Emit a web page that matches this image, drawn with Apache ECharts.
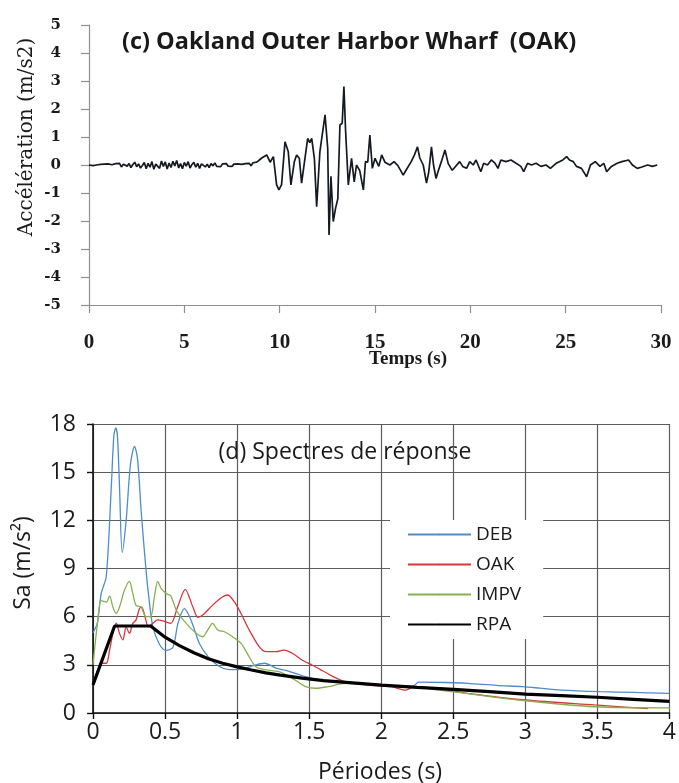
<!DOCTYPE html>
<html>
<head>
<meta charset="utf-8">
<script src="https://cdn.jsdelivr.net/npm/echarts@6/dist/echarts.min.js"></script>
<style>
  html, body { margin: 0; padding: 0; background: #fff; }
  #chart { width: 679px; height: 783px; }
</style>
</head>
<body>
<div id="chart"></div>
<script>
// (c) Accélérogramme – Oakland Outer Harbor Wharf (OAK)
const accTime = [
  0.0, 0.1, 0.2, 0.3, 0.4, 0.5, 0.6, 0.7, 0.8, 0.9, 1.0, 1.1, 1.2, 1.3, 1.4,
  1.5, 1.6, 1.7, 1.8, 1.9, 2.0, 2.1, 2.2, 2.3, 2.4, 2.5, 2.6, 2.7, 2.8, 2.9,
  3.0, 3.1, 3.2, 3.3, 3.4, 3.5, 3.6, 3.7, 3.8, 3.9, 4.0, 4.1, 4.2, 4.3, 4.4,
  4.5, 4.6, 4.7, 4.8, 4.9, 5.0, 5.1, 5.2, 5.3, 5.4, 5.5, 5.6, 5.7, 5.8, 5.9,
  6.0, 6.1, 6.2, 6.3, 6.4, 6.5, 6.6, 6.7, 6.8, 6.9, 7.0, 7.1, 7.2, 7.3, 7.4,
  7.5, 7.6, 7.7, 7.8, 7.9, 8.0, 8.1, 8.2, 8.3, 8.4, 8.5, 8.6, 8.7, 8.8, 8.9,
  9.06, 9.32, 9.5, 9.67, 9.84, 9.96, 10.1, 10.28, 10.45, 10.59, 10.77, 10.89, 11.03, 11.15, 11.3,
  11.47, 11.58, 11.68, 11.82, 11.94, 12.11, 12.38, 12.52, 12.59, 12.69, 12.81, 12.93, 13.05, 13.16,
  13.28, 13.37, 13.46, 13.6, 13.77, 13.91, 14.03, 14.2, 14.39, 14.5, 14.62, 14.73, 14.86, 15.0,
  15.2, 15.35, 15.52, 15.78, 16.0, 16.2, 16.48, 16.65, 16.9, 17.07, 17.23, 17.35, 17.53, 17.7,
  17.82, 17.96, 18.07, 18.2, 18.3, 18.48, 18.67, 18.84, 19.05, 19.2, 19.44, 19.6, 19.8, 19.97,
  20.15, 20.3, 20.55, 20.7, 20.9, 21.1, 21.3, 21.45, 21.6, 21.87, 22.13, 22.4, 22.65, 22.8, 23.0,
  23.2, 23.45, 23.7, 23.97, 24.2, 24.5, 24.67, 24.85, 25.05, 25.2, 25.4, 25.57, 25.83, 26.1, 26.3,
  26.55, 26.8, 27.0, 27.15, 27.4, 27.7, 27.95, 28.3, 28.5, 28.75, 29.0, 29.3, 29.55, 29.8
];
const accValues = [
  0.00, 0.01, -0.02, 0.02, 0.0, -0.03, 0.02, -0.01, 0.03, -0.02, 0.04, -0.03, 0.01, -0.04, 0.05,
  -0.02, 0.06, -0.07, 0.03, 0.08, -0.04, 0.05, -0.09, 0.02, 0.1, -0.06, 0.04, -0.11, -0.02, 0.09,
  -0.13, 0.06, -0.08, 0.12, -0.15, 0.03, 0.1, -0.12, 0.14, -0.05, 0.11, -0.14, 0.07, -0.09, 0.13,
  -0.03, 0.16, -0.1, 0.05, -0.13, 0.09, -0.04, 0.12, -0.11, 0.02, 0.1, -0.08, 0.06, -0.12, 0.04,
  0.08, -0.07, 0.03, -0.09, 0.05, -0.03, 0.07, -0.05, 0.02, -0.06, 0.04, -0.02, 0.05, -0.04, 0.01,
  -0.05, 0.03, -0.02, 0.04, -0.03, 0.02, -0.04, 0.05, -0.01, 0.06, -0.03, 0.08, 0.02, 0.1, 0.04,
  0.25, 0.36, 0.1, 0.3, -0.71, -0.89, -0.7, 0.83, 0.48, -0.71, 0.12, 0.36, 0.24, -0.65, 0.1,
  0.95, 0.8, 0.95, 0.24, -1.49, 0.48, 1.79, 0.6, -2.5, -0.4, -2.02, -1.55, -1.2, 1.43,
  1.49, 2.8, 1.19, -0.71, 0.24, -0.6, 0.0, -0.2, -0.89, 0.12, 0.1, 1.07, -0.12, 0.24,
  -0.05, 0.36, 0.1, 0.0, 0.12, -0.02, -0.36, -0.16, 0.12, 0.36, 0.65, 0.25, 0.0, -0.65,
  -0.25, 0.65, 0.0, -0.48, -0.25, 0.12, 0.54, 0.05, -0.19, -0.07, 0.12, -0.05, -0.12, 0.12,
  0.0, 0.18, -0.24, 0.06, 0.0, 0.18, 0.06, -0.12, 0.18, 0.12, 0.18, 0.06, -0.05, -0.24, 0.06,
  0.0, 0.06, -0.05, 0.0, -0.12, 0.06, 0.12, 0.18, 0.3, 0.18, 0.12, -0.05, -0.12, -0.42, 0.0,
  0.12, -0.05, 0.06, -0.24, -0.05, 0.06, 0.12, 0.18, 0.0, -0.12, -0.07, 0.0, -0.05, 0.0
];
const accTicks = { min: -5, max: 5, step: 1 };
const timeTicks = { min: 0, max: 30, step: 5 };

// (d) Spectres de réponse
const debPeriods = [0, 0.03, 0.057, 0.092, 0.127, 0.145, 0.158, 0.17, 0.184, 0.203, 0.23, 0.26, 0.288, 0.31, 0.334, 0.368,
  0.39, 0.415, 0.46, 0.506, 0.555, 0.59, 0.635, 0.67, 0.704, 0.74, 0.8, 0.877, 0.946, 0.99, 1.06, 1.13, 1.19, 1.27,
  1.36, 1.476, 1.57, 1.68, 1.8, 1.95, 2.1, 2.22, 2.26, 2.45, 2.6, 2.8, 2.98, 3.1, 3.25, 3.52, 3.75, 4.0];
const debSa = [5.0, 5.6, 7.45, 8.5, 14.1, 17.3, 17.75, 17.2, 14.1, 10.0, 12.0, 15.5, 16.6, 15.75, 12.6, 8.9,
  7.0, 5.4, 4.3, 3.9, 4.1, 5.6, 6.5, 6.0, 5.2, 4.3, 3.5, 2.9, 2.7, 2.7, 2.8, 3.0, 3.1, 2.8,
  2.6, 2.26, 2.07, 1.95, 1.85, 1.75, 1.7, 1.68, 1.92, 1.9, 1.85, 1.72, 1.64, 1.55, 1.43, 1.33, 1.28, 1.22];

const oakPeriods = [0, 0.03, 0.057, 0.092, 0.115, 0.138, 0.161, 0.184, 0.207, 0.23, 0.253, 0.276, 0.299, 0.322, 0.338,
  0.361, 0.384, 0.414, 0.449, 0.495, 0.54, 0.587, 0.64, 0.693, 0.728, 0.762, 0.83, 0.9, 0.935, 0.98, 1.027, 1.084,
  1.153, 1.2, 1.27, 1.326, 1.383, 1.45, 1.52, 1.59, 1.66, 1.75, 1.91, 2.07, 2.17, 2.23, 2.4, 2.6, 3.0, 3.48, 3.85];
const oakSa = [1.8, 2.6, 3.1, 3.1, 3.9, 4.96, 5.6, 4.96, 4.55, 5.37, 4.96, 5.58, 5.8, 6.5, 6.6,
  6.0, 5.37, 5.58, 5.8, 5.7, 5.58, 6.6, 7.7, 6.6, 5.96, 6.1, 6.72, 7.24, 7.35, 6.93, 6.2, 5.17,
  4.13, 3.82, 3.82, 3.92, 3.72, 3.3, 2.99, 2.65, 2.3, 1.95, 1.74, 1.64, 1.43, 1.64, 1.5, 1.22, 0.81, 0.5, 0.27];

const impvPeriods = [0, 0.03, 0.057, 0.092, 0.115, 0.138, 0.161, 0.184, 0.219, 0.253, 0.276, 0.299, 0.334, 0.368, 0.4,
  0.426, 0.449, 0.472, 0.506, 0.54, 0.578, 0.647, 0.716, 0.762, 0.796, 0.83, 0.865, 0.912, 0.969, 1.027, 1.084,
  1.13, 1.2, 1.29, 1.383, 1.476, 1.545, 1.63, 1.75, 2.02, 2.25, 2.49, 2.95, 3.48, 4.0];
const impvSa = [3.0, 5.5, 7.0, 6.9, 7.3, 6.6, 6.2, 6.6, 7.66, 8.2, 7.45, 6.7, 6.6, 6.0, 6.0,
  7.24, 8.2, 7.76, 7.45, 7.3, 6.4, 5.58, 4.96, 4.75, 5.17, 5.58, 5.17, 5.06, 4.75, 4.34, 3.5,
  2.88, 2.68, 2.57, 2.16, 1.64, 1.54, 1.64, 1.85, 1.74, 1.6, 1.33, 0.81, 0.39, 0.32];

const rpaPeriods = [0, 0.15, 0.4, 0.5, 0.6, 0.7, 0.8, 0.9, 1.0, 1.1, 1.2, 1.3, 1.45, 1.6, 1.8, 2.0, 2.25, 2.5,
  2.75, 3.0, 3.25, 3.5, 3.75, 4.0];
const rpaSa = [1.75, 5.42, 5.42, 4.72, 4.2, 3.75, 3.38, 3.1, 2.87, 2.68, 2.5, 2.36, 2.17, 2.02, 1.88, 1.74, 1.6, 1.47,
  1.33, 1.18, 1.08, 0.98, 0.85, 0.72];

const periodTicks = { min: 0, max: 4, step: 0.5 };
const saTicks = { min: 0, max: 18, step: 3 };

const pairs = (xs, ys) => xs.map((x, i) => [x, ys[i]]);

const serif = 'Liberation Serif';
const sans = 'Open Sans';

const chart = echarts.init(document.getElementById('chart'), null, { renderer: 'canvas' });

chart.setOption({
  animation: false,
  backgroundColor: '#ffffff',
  grid: [
    { left: 89, top: 25, width: 572, height: 280 },
    { left: 93, top: 424, width: 579, height: 289 }
  ],
  xAxis: [
    {
      gridIndex: 0, type: 'value',
      min: timeTicks.min, max: timeTicks.max, interval: timeTicks.step,
      axisLine: { onZero: false, lineStyle: { color: '#8f8f8f', width: 1.2 } },
      axisTick: { show: true, length: 8, lineStyle: { color: '#8f8f8f', width: 1.2 } },
      splitLine: { show: false },
      axisLabel: { margin: 27, color: '#1a1a1a', fontFamily: serif, fontWeight: 'bold', fontSize: 21 }
    },
    {
      gridIndex: 1, type: 'value',
      min: periodTicks.min, max: periodTicks.max, interval: periodTicks.step,
      axisLine: { onZero: false, lineStyle: { color: '#111', width: 1.6 } },
      axisTick: { show: true, length: 6, lineStyle: { color: '#111', width: 1.4 } },
      splitLine: { show: true, lineStyle: { color: '#5c5c5c', width: 1.2 } },
      axisLabel: { margin: 8, color: '#1a1a1a', fontFamily: sans, fontSize: 23 }
    }
  ],
  yAxis: [
    {
      gridIndex: 0, type: 'value',
      min: accTicks.min, max: accTicks.max, interval: accTicks.step,
      axisLine: { show: true, onZero: false, lineStyle: { color: '#8f8f8f', width: 1.2 } },
      axisTick: { show: true, length: 8, lineStyle: { color: '#8f8f8f', width: 1.2 } },
      splitLine: { show: false },
      axisLabel: { margin: 28, color: '#1a1a1a', fontFamily: 'DejaVu Serif', fontWeight: 'bold', fontSize: 15 }
    },
    {
      gridIndex: 1, type: 'value',
      min: saTicks.min, max: saTicks.max, interval: saTicks.step,
      axisLine: { show: true, onZero: false, lineStyle: { color: '#111', width: 1.6 } },
      axisTick: { show: true, length: 6, lineStyle: { color: '#111', width: 1.4 } },
      splitLine: { show: true, lineStyle: { color: '#5c5c5c', width: 1.2 } },
      axisLabel: { margin: 17, color: '#1a1a1a', fontFamily: sans, fontSize: 23 }
    }
  ],
  legend: {
    data: ['DEB', 'OAK', 'IMPV', 'RPA'],
    orient: 'vertical',
    left: 390, top: 520,
    padding: [5, 22, 5, 17],
    itemWidth: 63, itemHeight: 2, itemGap: 11,
    backgroundColor: '#ffffff',
    textStyle: { fontFamily: sans, fontSize: 19, color: '#1a1a1a' }
  },
  graphic: [
    {
      type: 'text', x: 122, y: 42,
      style: {
        text: '(c) Oakland Outer Harbor Wharf  (OAK)',
        fontFamily: sans, fontWeight: 'bold', fontSize: 23.5, fill: '#1a1a1a',
        textAlign: 'left', textVerticalAlign: 'middle'
      }
    },
    {
      type: 'text', x: 27, y: 137, rotation: Math.PI / 2,
      style: {
        text: 'Accélération (m/s2)',
        fontFamily: 'DejaVu Serif', fontSize: 20, fill: '#1a1a1a',
        textAlign: 'center', textVerticalAlign: 'middle'
      }
    },
    {
      type: 'text', x: 408, y: 359,
      style: {
        text: 'Temps (s)',
        fontFamily: serif, fontWeight: 'bold', fontSize: 19, fill: '#1a1a1a',
        textAlign: 'center', textVerticalAlign: 'middle'
      }
    },
    {
      type: 'text', x: 345, y: 452,
      style: {
        text: '(d) Spectres de réponse',
        fontFamily: sans, fontSize: 23, fill: '#1a1a1a',
        textAlign: 'center', textVerticalAlign: 'middle'
      }
    },
    {
      type: 'text', x: 23, y: 563, rotation: Math.PI / 2,
      style: {
        text: 'Sa (m/s²)',
        fontFamily: sans, fontSize: 23, fill: '#1a1a1a',
        textAlign: 'center', textVerticalAlign: 'middle'
      }
    },
    {
      type: 'text', x: 380, y: 772,
      style: {
        text: 'Périodes (s)',
        fontFamily: sans, fontSize: 23, fill: '#1a1a1a',
        textAlign: 'center', textVerticalAlign: 'middle'
      }
    }
  ],
  series: [
    {
      name: 'Accélération', type: 'line', xAxisIndex: 0, yAxisIndex: 0,
      data: pairs(accTime, accValues),
      symbol: 'none', lineStyle: { color: '#141a22', width: 1.7 }
    },
    {
      name: 'DEB', type: 'line', xAxisIndex: 1, yAxisIndex: 1,
      data: pairs(debPeriods, debSa), smooth: 0.3,
      symbol: 'none', color: '#4f8ccc', lineStyle: { color: '#4f8ccc', width: 1.3 }
    },
    {
      name: 'OAK', type: 'line', xAxisIndex: 1, yAxisIndex: 1,
      data: pairs(oakPeriods, oakSa), smooth: 0.3,
      symbol: 'none', color: '#d8363b', lineStyle: { color: '#d8363b', width: 1.3 }
    },
    {
      name: 'IMPV', type: 'line', xAxisIndex: 1, yAxisIndex: 1,
      data: pairs(impvPeriods, impvSa), smooth: 0.3,
      symbol: 'none', color: '#86b04e', lineStyle: { color: '#86b04e', width: 1.3 }
    },
    {
      name: 'RPA', type: 'line', xAxisIndex: 1, yAxisIndex: 1,
      data: pairs(rpaPeriods, rpaSa),
      symbol: 'none', color: '#000000', lineStyle: { color: '#000000', width: 3.2 }
    }
  ]
});
</script>
</body>
</html>
